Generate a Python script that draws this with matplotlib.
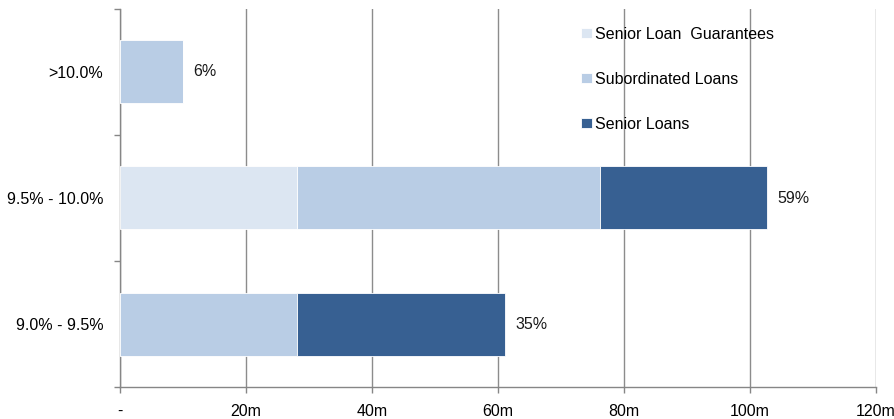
import matplotlib.pyplot as plt
import numpy as np

# Dados: faixas de taxa (de baixo para cima) e valores em milhões
bands = ["9.0% - 9.5%", "9.5% - 10.0%", ">10.0%"]
senior_guarantees = [0.0, 28.1, 0.0]
subordinated = [28.1, 48.1, 10.0]
senior_loans = [33.0, 26.5, 0.0]

series_names = ["Senior Loan  Guarantees", "Subordinated Loans", "Senior Loans"]
colors = ["#DCE6F2", "#B9CDE5", "#376092"]

x_ticks = [0, 20, 40, 60, 80, 100, 120]
x_labels = ["-", "20m", "40m", "60m", "80m", "100m", "120m"]

plt.rcParams["font.family"] = ["Liberation Sans", "DejaVu Sans"]
plt.rcParams["font.size"] = 11.5

fig = plt.figure(figsize=(8.94, 4.19), dpi=100)
ax = fig.add_axes([120 / 894, 32 / 419, 756 / 894, 378 / 419])

y = np.arange(len(bands))
left = np.zeros(len(bands))
handles = []
for values, name, color in zip([senior_guarantees, subordinated, senior_loans],
                               series_names, colors):
    values = np.array(values)
    bars = ax.barh(y, values, left=left, height=0.5, color=color,
                   edgecolor="white", linewidth=0.6, zorder=3, label=name)
    handles.append(bars)
    left += values

# Rótulos com a participação de cada faixa no total
totals = left
grand_total = totals.sum()
for yi, tot in zip(y, totals):
    ax.annotate(f"{tot / grand_total:.0%}", xy=(tot, yi), xytext=(7.5, 0),
                textcoords="offset points", va="center", ha="left",
                fontsize=11.5, color="#1a1a1a")

ax.set_xlim(0, 120)
ax.set_ylim(-0.5, len(bands) - 0.5)
ax.set_xticks(x_ticks)
ax.set_xticklabels(x_labels)
ax.set_yticks(y)
ax.set_yticklabels(bands)
ax.set_yticks(np.arange(-0.5, len(bands), 1.0), minor=True)

ax.tick_params(axis="y", which="major", length=0, pad=12)
ax.tick_params(axis="y", which="minor", length=4, color="#868686", width=1)
ax.tick_params(axis="x", length=4, color="#868686", width=1, pad=8)

ax.xaxis.grid(True, color="#8c8c8c", linewidth=1, zorder=0)
ax.set_axisbelow(True)
for side in ["top", "right"]:
    ax.spines[side].set_visible(False)
for side in ["left", "bottom"]:
    ax.spines[side].set_color("#868686")
    ax.spines[side].set_linewidth(1)

ax.legend(handles=handles, loc="upper left",
          bbox_to_anchor=(573 / 894, 1 - 19 / 419),
          bbox_transform=fig.transFigure, frameon=False, borderpad=0,
          handlelength=0.7, handleheight=0.6, handletextpad=0.2,
          labelspacing=1.88, fontsize=11.5)

fig.savefig("out.png", dpi=100)
